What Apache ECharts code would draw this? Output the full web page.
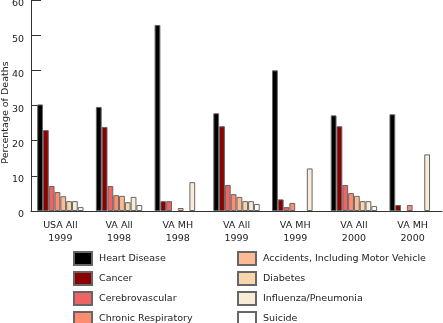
<!DOCTYPE html>
<html><head><meta charset="utf-8">
<script src="https://cdn.jsdelivr.net/npm/echarts@6/dist/echarts.min.js"></script>
<style>html,body{margin:0;padding:0;background:#fff}#c{width:443px;height:323px}</style>
</head><body><div id="c"></div>
<script>
var categories = ["USA All\n1999","VA All\n1998","VA MH\n1998","VA All\n1999","VA MH\n1999","VA All\n2000","VA MH\n2000"];
var yTicks = [0,10,20,30,40,50,60];
var heartDisease = [30.3, 29.6, 52.9, 27.8, 40.0, 27.2, 27.5];
var cancer       = [23.0, 23.9, 2.8, 24.1, 3.3, 24.1, 1.7];
var cerebro      = [7.1, 7.1, 2.8, 7.4, 1.1, 7.4, 0];
var chronicResp  = [5.4, 4.5, 0, 4.8, 2.3, 5.1, 1.7];
var accidents    = [4.2, 4.3, 0.85, 4.0, 0, 4.3, 0];
var diabetes     = [2.8, 2.5, 0, 2.8, 0, 2.8, 0];
var influenza    = [2.8, 4.0, 8.2, 2.8, 12.1, 2.8, 16.1];
var suicide      = [1.1, 1.7, 0, 2.0, 0, 1.4, 0];
var seriesNames = ["Heart Disease","Cancer","Cerebrovascular","Chronic Respiratory","Accidents, Including Motor Vehicle","Diabetes","Influenza/Pneumonia","Suicide"];
var seriesData = [heartDisease, cancer, cerebro, chronicResp, accidents, diabetes, influenza, suicide];
var colors = ["#000000","#8b0000","#ee6363","#ff8c70","#fdbb93","#f7d7aa","#f8ecd8","#ffffff"];
var font = "DejaVu Sans";
var chart = echarts.init(document.getElementById('c'));
var series = seriesNames.map(function(n,i){
  return {
    name:n, type:'bar', data: seriesData[i].map(function(v){return v===0?null:v;}),
    barGap:'0%', barCategoryGap:'21%',
    itemStyle:{color:colors[i], borderColor:'#666', borderWidth:1},
    emphasis:{disabled:true}, animation:false
  };
});
var legendBase = {orient:'vertical', itemWidth:18, itemHeight:13, itemGap:5, icon:'rect',
  height:100, width:200,
  textStyle:{fontFamily:font, fontSize:9.5, color:'#222', padding:[0,0,0,2], lineHeight:13}, padding:0, selectedMode:false};
chart.setOption({
  animation:false,
  color: colors,
  grid:{left:31, right:1, top:0, bottom:112, containLabel:false, outerBoundsMode:'none'},
  legend:[
    Object.assign({}, legendBase, {left:73, top:251, data:seriesNames.slice(0,4)}),
    Object.assign({}, legendBase, {left:237, top:251, data:seriesNames.slice(4)})
  ],
  xAxis:{type:'category', data:categories,
    axisLine:{lineStyle:{color:'#333'}},
    axisTick:{inside:true, length:5, lineStyle:{color:'#333'}},
    axisLabel:{fontFamily:font, fontSize:9.5, color:'#222', lineHeight:13, margin:8}
  },
  yAxis:{type:'value', min:yTicks[0], max:yTicks[yTicks.length-1], interval:10,
    name:'Percentage of Deaths', nameLocation:'middle', nameGap:20, nameMoveOverlap:false,
    nameTextStyle:{fontFamily:font, fontSize:9.5, color:'#222', padding:[0,14,0,0]},
    axisLine:{show:true, lineStyle:{color:'#333'}},
    axisTick:{show:true, inside:true, length:10, lineStyle:{color:'#333'}},
    axisLabel:{fontFamily:font, fontSize:9.5, color:'#222', margin:7, verticalAlign:'top', lineHeight:8},
    splitLine:{show:false}
  },
  series: series
});
</script></body></html>
